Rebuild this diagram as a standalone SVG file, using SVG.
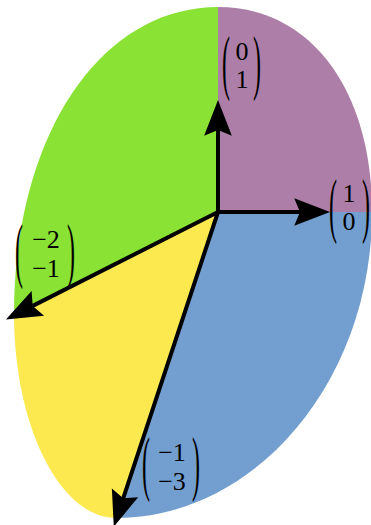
<svg xmlns="http://www.w3.org/2000/svg" width="371" height="525" viewBox="0 0 371 525">
<style>
.d{font-family:"Liberation Serif","Times New Roman",serif;font-size:26px;fill:#000;text-anchor:middle}
.p{font-family:"Liberation Serif","Times New Roman",serif;font-size:24px;fill:#000}
.v{stroke:#000;stroke-width:4;fill:none;stroke-linecap:round;marker-end:url(#ah)}
</style>
<defs>
<marker id="ah" markerUnits="userSpaceOnUse" orient="auto" refX="0" refY="0" markerWidth="40" markerHeight="30" viewBox="-6 -13 34 26" overflow="visible">
<path d="M26,0 L-5,-12 L0,0 L-5,12 Z" fill="#000"/>
</marker>
</defs>
<g id="cone-purple"><path d="M218,212 L218,7 C310,7 372,89 372,212 Z" fill="#ad7fa8"/></g>
<g id="cone-blue"><path d="M218,212 L372,212 C372,380 256,518 116,518 Z" fill="#729fcf"/></g>
<g id="cone-yellow"><path d="M218,212 L116,518 C60,518 14,426 14,314 Z" fill="#fce94f"/></g>
<g id="cone-green"><path d="M218,212 L14,314 C14,136 100,7 218,7 Z" fill="#8ae234"/></g>
<g id="connectors">
<line class="v" x1="218" y1="212" x2="218" y2="130"/>
<line class="v" x1="218" y1="212" x2="300" y2="212"/>
<line class="v" x1="218" y1="212" x2="32.7" y2="305.9"/>
<line class="v" x1="218" y1="212" x2="123.2" y2="498.3"/>
</g>
<g id="label-e2" transform="translate(222,37)">
<text class="p" transform="translate(0,49) scale(1,3.03)">(</text>
<text class="p" transform="translate(39,49) scale(1,3.03)" text-anchor="end">)</text>
<text class="d" x="20" y="23">0</text>
<text class="d" x="20" y="51">1</text>
</g>
<g id="label-e1" transform="translate(329,180)">
<text class="p" transform="translate(0,49) scale(1,3.03)">(</text>
<text class="p" transform="translate(41,49) scale(1,3.03)" text-anchor="end">)</text>
<text class="d" x="20" y="22">1</text>
<text class="d" x="20" y="50">0</text>
</g>
<g id="label-v3" transform="translate(15,225)">
<text class="p" transform="translate(0,49) scale(1,3.03)">(</text>
<text class="p" transform="translate(60,49) scale(1,3.03)" text-anchor="end">)</text>
<text class="d" x="31" y="23">−2</text>
<text class="d" x="31" y="52">−1</text>
</g>
<g id="label-v4" transform="translate(142,438)">
<text class="p" transform="translate(0,49) scale(1,3.03)">(</text>
<text class="p" transform="translate(58,49) scale(1,3.03)" text-anchor="end">)</text>
<text class="d" x="30" y="23">−1</text>
<text class="d" x="30" y="52">−3</text>
</g>
</svg>
